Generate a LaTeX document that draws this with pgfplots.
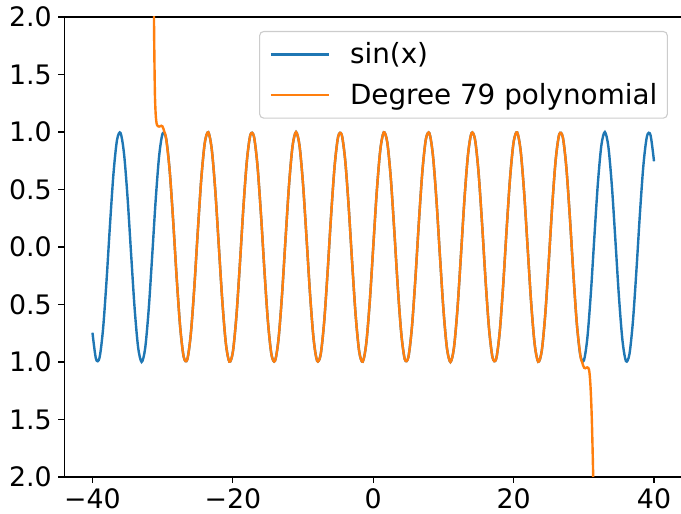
\documentclass[border=0pt]{standalone}
\usepackage{fontspec}
\setmainfont{DejaVu Sans}
\usepackage{pgfplots}
\usepackage{pgfplotstable}
\pgfplotsset{compat=1.18}
\definecolor{mplblue}{HTML}{1F77B4}
\definecolor{mplorange}{HTML}{FF7F0E}
\definecolor{legendgray}{HTML}{CCCCCC}

% sin(x), sampled every 0.5
\pgfplotstableread{
x y
-40 -0.7451
-39.5 -0.9736
-39 -0.9638
-38.5 -0.7180
-38 -0.2964
-37.5 0.1978
-37 0.6435
-36.5 0.9317
-36 0.9918
-35.5 0.8090
-35 0.4282
-34.5 -0.0575
-34 -0.5291
-33.5 -0.8711
-33 -0.9999
-32.5 -0.8839
-32 -0.5514
-31.5 -0.0840
-31 0.4040
-30.5 0.7931
-30 0.9880
-29.5 0.9410
-29 0.6636
-28.5 0.2238
-28 -0.2709
-27.5 -0.6993
-27 -0.9564
-26.5 -0.9794
-26 -0.7626
-25.5 -0.3591
-25 0.1324
-24.5 0.5913
-24 0.9056
-23.5 0.9981
-23 0.8462
-22.5 0.4872
-22 0.0089
-21.5 -0.4716
-21 -0.8367
-20.5 -0.9968
-20 -0.9129
-19.5 -0.6055
-19 -0.1499
-18.5 0.3425
-18 0.7510
-17.5 0.9756
-17 0.9614
-16.5 0.7118
-16 0.2879
-15.5 -0.2065
-15 -0.6503
-14.5 -0.9349
-14 -0.9906
-13.5 -0.8038
-13 -0.4202
-12.5 0.0663
-12 0.5366
-11.5 0.8755
-11 1.0000
-10.5 0.8797
-10 0.5440
-9.5 0.0752
-9 -0.4121
-8.5 -0.7985
-8 -0.9894
-7.5 -0.9380
-7 -0.6570
-6.5 -0.2151
-6 0.2794
-5.5 0.7055
-5 0.9589
-4.5 0.9775
-4 0.7568
-3.5 0.3508
-3 -0.1411
-2.5 -0.5985
-2 -0.9093
-1.5 -0.9975
-1 -0.8415
-0.5 -0.4794
0 0
0.5 0.4794
1 0.8415
1.5 0.9975
2 0.9093
2.5 0.5985
3 0.1411
3.5 -0.3508
4 -0.7568
4.5 -0.9775
5 -0.9589
5.5 -0.7055
6 -0.2794
6.5 0.2151
7 0.6570
7.5 0.9380
8 0.9894
8.5 0.7985
9 0.4121
9.5 -0.0752
10 -0.5440
10.5 -0.8797
11 -1.0000
11.5 -0.8755
12 -0.5366
12.5 -0.0663
13 0.4202
13.5 0.8038
14 0.9906
14.5 0.9349
15 0.6503
15.5 0.2065
16 -0.2879
16.5 -0.7118
17 -0.9614
17.5 -0.9756
18 -0.7510
18.5 -0.3425
19 0.1499
19.5 0.6055
20 0.9129
20.5 0.9968
21 0.8367
21.5 0.4716
22 -0.0089
22.5 -0.4872
23 -0.8462
23.5 -0.9981
24 -0.9056
24.5 -0.5913
25 -0.1324
25.5 0.3591
26 0.7626
26.5 0.9794
27 0.9564
27.5 0.6993
28 0.2709
28.5 -0.2238
29 -0.6636
29.5 -0.9410
30 -0.9880
30.5 -0.7931
31 -0.4040
31.5 0.0840
32 0.5514
32.5 0.8839
33 0.9999
33.5 0.8711
34 0.5291
34.5 0.0575
35 -0.4282
35.5 -0.8090
36 -0.9918
36.5 -0.9317
37 -0.6435
37.5 -0.1978
38 0.2964
38.5 0.7180
39 0.9638
39.5 0.9736
40 0.7451
}\sinetable

% degree 79 fit: same as sin in the middle, blows up past |x| = 31
\pgfplotstableread{
x y
-31.6 5.0
-31.4 3.2
-31.3 2.45
-31.24 2.0
-31.18 1.65
-31.1 1.32
-31 1.16
-30.9 1.09
-30.8 1.06
-30.65 1.05
-30.5 1.047
-30.35 1.05
-30.2 1.054
-30.05 1.05
-29.9 1.03
-29.75 1.0
-29.5 0.9410
-29 0.6636
-28.5 0.2238
-28 -0.2709
-27.5 -0.6993
-27 -0.9564
-26.5 -0.9794
-26 -0.7626
-25.5 -0.3591
-25 0.1324
-24.5 0.5913
-24 0.9056
-23.5 0.9981
-23 0.8462
-22.5 0.4872
-22 0.0089
-21.5 -0.4716
-21 -0.8367
-20.5 -0.9968
-20 -0.9129
-19.5 -0.6055
-19 -0.1499
-18.5 0.3425
-18 0.7510
-17.5 0.9756
-17 0.9614
-16.5 0.7118
-16 0.2879
-15.5 -0.2065
-15 -0.6503
-14.5 -0.9349
-14 -0.9906
-13.5 -0.8038
-13 -0.4202
-12.5 0.0663
-12 0.5366
-11.5 0.8755
-11 1.0000
-10.5 0.8797
-10 0.5440
-9.5 0.0752
-9 -0.4121
-8.5 -0.7985
-8 -0.9894
-7.5 -0.9380
-7 -0.6570
-6.5 -0.2151
-6 0.2794
-5.5 0.7055
-5 0.9589
-4.5 0.9775
-4 0.7568
-3.5 0.3508
-3 -0.1411
-2.5 -0.5985
-2 -0.9093
-1.5 -0.9975
-1 -0.8415
-0.5 -0.4794
0 0
0.5 0.4794
1 0.8415
1.5 0.9975
2 0.9093
2.5 0.5985
3 0.1411
3.5 -0.3508
4 -0.7568
4.5 -0.9775
5 -0.9589
5.5 -0.7055
6 -0.2794
6.5 0.2151
7 0.6570
7.5 0.9380
8 0.9894
8.5 0.7985
9 0.4121
9.5 -0.0752
10 -0.5440
10.5 -0.8797
11 -1.0000
11.5 -0.8755
12 -0.5366
12.5 -0.0663
13 0.4202
13.5 0.8038
14 0.9906
14.5 0.9349
15 0.6503
15.5 0.2065
16 -0.2879
16.5 -0.7118
17 -0.9614
17.5 -0.9756
18 -0.7510
18.5 -0.3425
19 0.1499
19.5 0.6055
20 0.9129
20.5 0.9968
21 0.8367
21.5 0.4716
22 -0.0089
22.5 -0.4872
23 -0.8462
23.5 -0.9981
24 -0.9056
24.5 -0.5913
25 -0.1324
25.5 0.3591
26 0.7626
26.5 0.9794
27 0.9564
27.5 0.6993
28 0.2709
28.5 -0.2238
29 -0.6636
29.5 -0.9410
29.75 -1.0
29.9 -1.03
30.05 -1.05
30.2 -1.054
30.35 -1.05
30.5 -1.047
30.65 -1.052
30.75 -1.07
30.85 -1.12
30.95 -1.21
31.05 -1.34
31.15 -1.52
31.25 -1.76
31.35 -2.05
31.45 -2.5
31.6 -3.5
}\polytable

\begin{document}
\begin{tikzpicture}
\begin{axis}[
    width=617.7pt, height=460pt, scale only axis,
    at={(0pt,0pt)}, anchor=south west,
    xmin=-44, xmax=44, ymin=-2, ymax=2,
    xtick={-40,-20,0,20,40},
    xticklabels={−40,−20,0,20,40},
    ytick={-2,-1.5,-1,-0.5,0,0.5,1,1.5,2},
    yticklabels={2.0,1.5,1.0,0.5,0.0,0.5,1.0,1.5,2.0},
    tick align=outside, tick pos=left,
    major tick length=6pt,
    every tick/.style={black, line width=1.1pt},
    axis line style={line width=1.1pt},
    tick label style={font=\fontsize{26.8}{30}\selectfont, inner sep=0pt},
    xticklabel style={yshift=-5.5pt},
    yticklabel style={xshift=-6.5pt},
    legend cell align=left,
    legend image code/.code={\draw[#1] (0pt,0pt) -- (58pt,0pt);},
    legend style={at={(0.977,0.9696)}, anchor=north east,
        draw=legendgray, line width=1.1pt, rounded corners=4pt, fill=white,
        font=\fontsize{27.8}{30}\selectfont,
        inner xsep=10pt, inner ysep=10pt, row sep=14.6pt, column sep=20pt,
        nodes={inner sep=0pt, text height=22pt, text depth=4pt}},
]
\addplot[mplblue, line width=2.4pt, smooth] table {\sinetable};
\addlegendentry{sin(x)}
\addplot[mplorange, line width=2.4pt, smooth] table {\polytable};
\addlegendentry{Degree 79 polynomial}
\end{axis}
\pgfresetboundingbox
\useasboundingbox (-64.4pt,-37pt) rectangle (616.6pt,477pt);
\end{tikzpicture}
\end{document}
